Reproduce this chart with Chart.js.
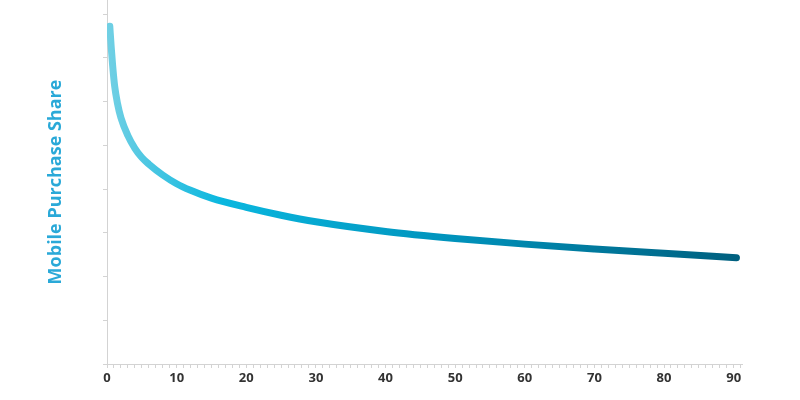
<!DOCTYPE html>
<html>
<head>
<meta charset="utf-8">
<script src="https://cdn.jsdelivr.net/npm/chart.js@4.4.1/dist/chart.umd.min.js"></script>
<style>
html, body { margin: 0; padding: 0; background: #fff; }
#wrap { width: 800px; height: 400px; }
</style>
</head>
<body>
<div id="wrap"><canvas id="shareChart"></canvas></div>
<script>
// Mobile purchase share curve

const days = [0.4, 0.6, 0.8, 1.1, 1.5, 2, 3, 4, 5, 6, 8, 10, 12, 15, 20, 25, 30, 40, 50, 60, 70, 80, 90.4];
const share = [77.2, 72.5, 68.4, 63.5, 59.6, 56.3, 52.2, 49.3, 47.2, 45.7, 43.2, 41.2, 39.7, 37.9, 35.8, 34.0, 32.5, 30.3, 28.7, 27.4, 26.3, 25.3, 24.3];

const yTicks = [0, 10, 20, 30, 40, 50, 60, 70, 80];
const xLabels = [0, 10, 20, 30, 40, 50, 60, 70, 80, 90];

const points = days.map((d, i) => ({ x: d, y: share[i] }));

function lineGradient(context) {
  const chart = context.chart;
  const area = chart.chartArea;
  if (!area) return "#00b4dc";
  const g = chart.ctx.createLinearGradient(area.left, 0, area.right, 0);
  g.addColorStop(0, "#72d0e4");
  g.addColorStop(0.18, "#0ab7df");
  g.addColorStop(0.55, "#0092bb");
  g.addColorStop(1, "#005f7e");
  return g;
}

new Chart(document.getElementById("shareChart"), {
  type: "line",
  data: {
    datasets: [{
      data: points,
      borderColor: lineGradient,
      borderWidth: 7,
      borderCapStyle: "round",
      borderJoinStyle: "round",
      pointRadius: 0,
      cubicInterpolationMode: "monotone",
      fill: false
    }]
  },
  options: {
    responsive: true,
    maintainAspectRatio: false,
    animation: false,
    layout: { padding: { left: 0, right: 58, top: 0, bottom: 0 } },
    plugins: { legend: { display: false }, tooltip: { enabled: false } },
    scales: {
      x: {
        type: "linear",
        min: 0,
        max: 91.2,
        afterBuildTicks: scale => {
          const t = [];
          for (let v = 0; v <= 91; v++) t.push({ value: v });
          scale.ticks = t;
        },
        afterFit: scale => { scale.height = 36; },
        grid: {
          drawOnChartArea: false,
          drawTicks: true,
          tickLength: 4,
          color: "#d3d3d3"
        },
        border: { color: "#d3d3d3", width: 1 },
        ticks: {
          autoSkip: false,
          maxRotation: 0,
          padding: 2,
          color: "#333",
          font: { family: "Open Sans", size: 13, weight: "bold" },
          callback: v => xLabels.includes(v) ? String(v) : ""
        }
      },
      y: {
        min: 0,
        max: 83.2,
        afterBuildTicks: scale => {
          scale.ticks = yTicks.map(v => ({ value: v }));
        },
        afterFit: scale => { scale.width = 107; },
        grid: {
          drawOnChartArea: false,
          drawTicks: true,
          tickLength: 4,
          color: "#d3d3d3"
        },
        border: { color: "#d3d3d3", width: 1 },
        ticks: { display: false },
        title: {
          display: true,
          text: "Mobile Purchase Share",
          color: "#2aa9d8",
          font: { family: "Open Sans", size: 18, weight: "bold" },
          padding: { top: 45, bottom: 0 }
        }
      }
    }
  }
});
</script>
</body>
</html>
